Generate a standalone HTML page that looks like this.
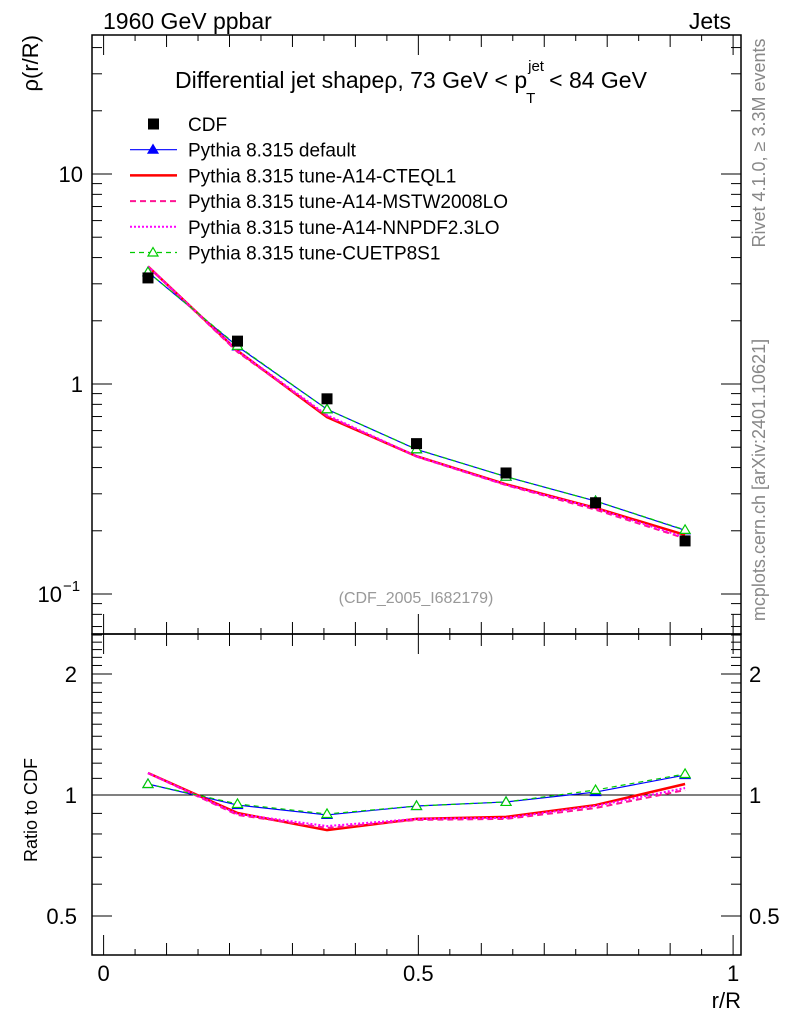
<!DOCTYPE html>
<html><head><meta charset="utf-8"><style>
html,body{margin:0;padding:0;background:#fff;}
svg{display:block;font-family:"Liberation Sans",sans-serif;}
</style></head><body>
<svg id="chart" width="786" height="1024" viewBox="0 0 786 1024" xmlns="http://www.w3.org/2000/svg">
<text x="103" y="29" font-size="23">1960 GeV ppbar</text>
<text x="731" y="29" font-size="23" text-anchor="end">Jets</text>
<text transform="translate(765,143) rotate(-90)" font-size="18" fill="#888" text-anchor="middle">Rivet 4.1.0, ≥ 3.3M events</text>
<text transform="translate(765,480) rotate(-90)" font-size="18" fill="#888" text-anchor="middle">mcplots.cern.ch [arXiv:2401.10621]</text>
<g>
<text id="title-main" x="175" y="88" font-size="23">Differential jet shapeρ, 73 GeV &lt; p</text>
<text id="title-sup" x="514" y="71" font-size="15">jet</text>
<text id="title-sub" x="512" y="103" font-size="15">T</text>
<text id="title-end" x="536" y="88" font-size="23"> &lt; 84 GeV</text>
</g>
<text x="416" y="603" font-size="16" fill="#999" text-anchor="middle">(CDF_2005_I682179)</text>
<text transform="translate(38,35) rotate(-90)" font-size="22" text-anchor="end">ρ(r/R)</text>
<text transform="translate(37,862) rotate(-90)" font-size="18">Ratio to CDF</text>
<text x="741" y="1008" font-size="22" text-anchor="end">r/R</text>
<g id="axes"></g>
<g id="series"></g>
<g id="legend"></g>
</svg>
<script>
const xBins = [0.0705, 0.2127, 0.3549, 0.4971, 0.6393, 0.7815, 0.9237];
const cdfValues = [3.2, 1.6, 0.85, 0.52, 0.377, 0.272, 0.179];
const defaultValues = [3.41, 1.51, 0.758, 0.488, 0.362, 0.277, 0.201];
const cteqValues = [3.63, 1.44, 0.695, 0.453, 0.333, 0.257, 0.191];
const mstwValues = [3.63, 1.42, 0.704, 0.451, 0.330, 0.252, 0.184];
const nnpdfValues = [3.63, 1.44, 0.711, 0.453, 0.331, 0.256, 0.186];
const cuetpValues = [3.41, 1.52, 0.758, 0.489, 0.362, 0.277, 0.202];
const defaultRatio = [1.065, 0.944, 0.892, 0.939, 0.961, 1.017, 1.121];
const cteqRatio = [1.134, 0.902, 0.818, 0.872, 0.882, 0.944, 1.065];
const mstwRatio = [1.134, 0.892, 0.828, 0.867, 0.872, 0.928, 1.029];
const nnpdfRatio = [1.134, 0.897, 0.837, 0.872, 0.877, 0.939, 1.041];
const cuetpRatio = [1.065, 0.950, 0.897, 0.939, 0.961, 1.029, 1.128];
const ratioTickLabels = ["2", "1", "0.5"];
const ratioTickValues = [2, 1, 0.5];
const xTickLabels = ["0", "0.5", "1"];
const xTickValues = [0, 0.5, 1];

const NS = "http://www.w3.org/2000/svg";
const L = 92, R = 741, T = 35, M = 634, B = 955;
const sx = v => 103.6 + v * 629.5;
const sy = v => 174 - (Math.log10(v) - 1) * 210;
const sr = v => 795 - Math.log10(v) * 402;
function mk(tag, attrs, parent) {
  const e = document.createElementNS(NS, tag);
  for (const k in attrs) e.setAttribute(k, attrs[k]);
  parent.appendChild(e);
  return e;
}
(function () {
  const tm = document.getElementById("title-main");
  const end = 175 + tm.getComputedTextLength();
  document.getElementById("title-sup").setAttribute("x", end + 1);
  document.getElementById("title-sub").setAttribute("x", end - 1);
  document.getElementById("title-end").setAttribute("x", end + 22);
})();
const axes = document.getElementById("axes");
const series = document.getElementById("series");
const legend = document.getElementById("legend");

let f1 = mk("rect", {x: L, y: T, width: R - L, height: M - T, fill: "none", stroke: "#000", "stroke-width": 1.5}, axes);


let f2 = mk("rect", {x: L, y: M, width: R - L, height: B - M, fill: "none", stroke: "#000", "stroke-width": 1.5}, axes);



for (let d = -2; d <= 1; d++) {
  for (let m = 1; m <= 9; m++) {
    const v = m * Math.pow(10, d);
    const y = sy(v);
    if (y < T || y > M) continue;
    const len = m === 1 ? 20 : 10;
    let t = mk("line", {x1: L, x2: L + len, y1: y, y2: y, stroke: "#000", "stroke-width": 1}, axes);
    
    
    let t2 = mk("line", {x1: R, x2: R - len, y1: y, y2: y, stroke: "#000", "stroke-width": 1}, axes);
    
    
  }
}
let yl1 = mk("text", {x: 83, y: sy(10) + 8, "font-size": 22, "text-anchor": "end"}, axes);
yl1.textContent = "10";


let yl2 = mk("text", {x: 83, y: sy(1) + 8, "font-size": 22, "text-anchor": "end"}, axes);
yl2.textContent = "1";


let yl3 = mk("text", {x: 62, y: sy(0.1) + 8, "font-size": 22, "text-anchor": "end"}, axes);
yl3.textContent = "10";


let yl3e = mk("text", {x: 63, y: sy(0.1) - 3, "font-size": 15}, axes);
yl3e.textContent = "−1";



for (let v = 0.4; v <= 2.5; v = Math.round((v + 0.1) * 10) / 10) {
  const y = sr(v);
  if (y < M || y > B) continue;
  const major = (v === 0.5 || v === 1 || v === 2);
  const len = major ? 20 : 10;
  let t = mk("line", {x1: L, x2: L + len, y1: y, y2: y, stroke: "#000", "stroke-width": 1}, axes);
  
  
  let t2 = mk("line", {x1: R, x2: R - len, y1: y, y2: y, stroke: "#000", "stroke-width": 1}, axes);
  
  
}
ratioTickValues.forEach((v, i) => {
  let a = mk("text", {x: 77, y: sr(v) + 8, "font-size": 22, "text-anchor": "end"}, axes);
  a.textContent = ratioTickLabels[i];
  
  
  let b = mk("text", {x: 749, y: sr(v) + 8, "font-size": 22}, axes);
  b.textContent = ratioTickLabels[i];
  
  
});
let ref = mk("line", {x1: L, x2: R, y1: sr(1), y2: sr(1), stroke: "#000", "stroke-width": 1}, axes);



for (let i = 0; i <= 20; i++) {
  const v = i * 0.05;
  const x = sx(v);
  const len = i % 10 === 0 ? 20 : (i % 2 === 0 ? 12 : 6);
  [[M, -1], [B, -1], [T, 1], [M, 1]].forEach(([y0, dir]) => {
    let t = mk("line", {x1: x, x2: x, y1: y0, y2: y0 + dir * len, stroke: "#000", "stroke-width": 1}, axes);
    
    
  });
}
xTickValues.forEach((v, i) => {
  let t = mk("text", {x: sx(v), y: 981, "font-size": 22, "text-anchor": "middle"}, axes);
  t.textContent = xTickLabels[i];
  
  
});

const defs = [
  {name: "default", vals: defaultValues, rat: defaultRatio, color: "#0000ff", dash: "", w: 1.2, marker: "tri", label: "Pythia 8.315 default"},
  {name: "cteql1", vals: cteqValues, rat: cteqRatio, color: "#ff0000", dash: "", w: 2.5, marker: "", label: "Pythia 8.315 tune-A14-CTEQL1"},
  {name: "mstw2008lo", vals: mstwValues, rat: mstwRatio, color: "#ff1493", dash: "6,4", w: 2, marker: "", label: "Pythia 8.315 tune-A14-MSTW2008LO"},
  {name: "nnpdf23lo", vals: nnpdfValues, rat: nnpdfRatio, color: "#ff00ff", dash: "2,2", w: 2, marker: "", label: "Pythia 8.315 tune-A14-NNPDF2.3LO"},
  {name: "cuetp8s1", vals: cuetpValues, rat: cuetpRatio, color: "#00cc00", dash: "5,4", w: 1.2, marker: "otri", label: "Pythia 8.315 tune-CUETP8S1"}
];
function tri(x, y, color, open, parent, nm) {
  let p = mk("polygon", {points: `${x},${y - 5} ${x - 5},${y + 3.5} ${x + 5},${y + 3.5}`, fill: open ? "#fff" : color, stroke: color, "stroke-width": 1.2}, parent);
  
  
}
defs.forEach(d => {
  let pl = mk("polyline", {points: xBins.map((x, i) => sx(x) + "," + sy(d.vals[i])).join(" "), fill: "none", stroke: d.color, "stroke-width": d.w, "stroke-dasharray": d.dash}, series);
  
  
  let pr = mk("polyline", {points: xBins.map((x, i) => sx(x) + "," + sr(d.rat[i])).join(" "), fill: "none", stroke: d.color, "stroke-width": d.w, "stroke-dasharray": d.dash}, series);
  
  
  if (d.marker) {
    xBins.forEach((x, i) => {
      tri(sx(x), sy(d.vals[i]), d.color, d.marker === "otri", series, 'marker-' + d.name);
      tri(sx(x), sr(d.rat[i]), d.color, d.marker === "otri", series, 'ratio-marker-' + d.name);
    });
  }
});
xBins.forEach((x, i) => {
  let r = mk("rect", {x: sx(x) - 5.5, y: sy(cdfValues[i]) - 5.5, width: 11, height: 11, fill: "#000"}, series);
  
  
});

const ly0 = 124, ldy = 25.7;
let lc = mk("rect", {x: 148, y: ly0 - 5.5, width: 11, height: 11, fill: "#000"}, legend);


let lt = mk("text", {x: 188, y: ly0 + 7, "font-size": 19}, legend);
lt.textContent = "CDF";


defs.forEach((d, i) => {
  const y = ly0 + (i + 1) * ldy;
  let l = mk("line", {x1: 130, x2: 177, y1: y, y2: y, stroke: d.color, "stroke-width": d.w, "stroke-dasharray": d.dash}, legend);
  
  
  if (d.marker) tri(153, y, d.color, d.marker === "otri", legend, 'legend-marker-' + d.name);
  let t = mk("text", {x: 188, y: y + 7, "font-size": 19}, legend);
  t.textContent = d.label;
  
  
});
</script>
</body></html>
